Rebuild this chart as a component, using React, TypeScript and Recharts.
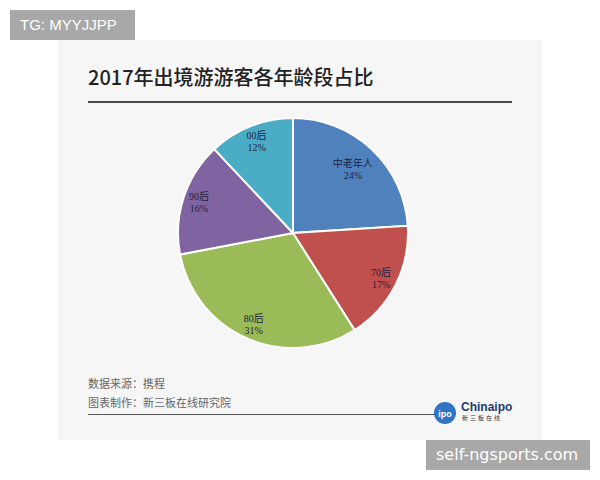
import React from "react";
import { PieChart, Pie, Cell } from "recharts";

const categories = ["中老年人", "70后", "80后", "90后", "00后"];
const shares = [24, 17, 31, 16, 12];
const colors = ["#4F81BD", "#C0504D", "#9BBB59", "#8064A2", "#4BACC6"];

const data = categories.map((name, i) => ({ name, value: shares[i] }));

const RADIAN = Math.PI / 180;

const renderLabel = (props: any) => {
  const { cx, cy, midAngle, outerRadius, index, name, value } = props;
  const r = outerRadius * (index === 0 ? 0.76 : 0.86);
  const x = cx + r * Math.cos(-midAngle * RADIAN);
  const y = cy + r * Math.sin(-midAngle * RADIAN);
  return (
    <text
      x={x}
      y={y}
      textAnchor="middle"
      fill="#1c2340"
      fontFamily="'Liberation Serif', 'Noto Sans CJK SC', serif"
      fontSize={10}
    >
      <tspan x={x} dy={-2}>{name}</tspan>
      <tspan x={x} dy={12}>{value + "%"}</tspan>
    </text>
  );
};

export default function App() {
  return (
    <div
      style={{
        position: "absolute",
        left: 0,
        top: 0,
        width: 600,
        height: 480,
        background: "#ffffff",
        overflow: "hidden",
        fontFamily: "'Noto Sans CJK SC', 'Noto Sans', sans-serif",
      }}
    >
      <div
        style={{
          position: "absolute",
          left: 58,
          top: 40,
          width: 484,
          height: 400,
          background: "#f6f6f6",
        }}
      />
      <div
        style={{
          position: "absolute",
          left: 88,
          top: 62,
          fontSize: 20,
          fontWeight: 500,
          color: "#222",
          whiteSpace: "nowrap",
          lineHeight: "30px",
        }}
      >
        2017年出境游游客各年龄段占比
      </div>
      <div
        style={{
          position: "absolute",
          left: 88,
          top: 101,
          width: 424,
          height: 2,
          background: "#4a4a4a",
        }}
      />
      <div style={{ position: "absolute", left: 0, top: 0 }}>
        <PieChart width={600} height={480} margin={{ top: 0, right: 0, bottom: 0, left: 0 }}>
          <Pie
            data={data}
            dataKey="value"
            nameKey="name"
            cx={293}
            cy={233}
            outerRadius={115}
            startAngle={90}
            endAngle={-270}
            stroke="#ffffff"
            strokeWidth={2}
            label={renderLabel}
            labelLine={false}
            isAnimationActive={false}
          >
            {data.map((d, i) => (
              <Cell key={d.name} fill={colors[i]} />
            ))}
          </Pie>
        </PieChart>
      </div>
      <div
        style={{
          position: "absolute",
          left: 88,
          top: 375,
          fontSize: 11,
          color: "#666",
          lineHeight: "16px",
          whiteSpace: "nowrap",
        }}
      >
        数据来源：携程
      </div>
      <div
        style={{
          position: "absolute",
          left: 88,
          top: 394,
          fontSize: 11,
          color: "#666",
          lineHeight: "16px",
          whiteSpace: "nowrap",
        }}
      >
        图表制作：新三板在线研究院
      </div>
      <div
        style={{
          position: "absolute",
          left: 88,
          top: 414,
          width: 348,
          height: 1,
          background: "#555",
        }}
      />
      <div
        style={{
          position: "absolute",
          left: 434,
          top: 402,
          width: 22,
          height: 22,
          borderRadius: 11,
          background: "#2f74c4",
          color: "#fff",
          fontSize: 9,
          fontWeight: 700,
          textAlign: "center",
          lineHeight: "24px",
          fontFamily: "Arial, 'Liberation Sans', sans-serif",
        }}
      >
        ipo
      </div>
      <div
        style={{
          position: "absolute",
          left: 461,
          top: 400,
          fontSize: 12,
          fontWeight: 700,
          color: "#1d3c6e",
          lineHeight: "14px",
          fontFamily: "'Liberation Sans', sans-serif",
          whiteSpace: "nowrap",
        }}
      >
        Chinaipo
      </div>
      <div
        style={{
          position: "absolute",
          left: 462,
          top: 414,
          fontSize: 6,
          color: "#333",
          lineHeight: "8px",
          letterSpacing: 2,
          whiteSpace: "nowrap",
        }}
      >
        新三板在线
      </div>
      <div
        style={{
          position: "absolute",
          left: 10,
          top: 10,
          width: 125,
          height: 30,
          background: "#a8a8a8",
          color: "#fff",
          fontSize: 15,
          lineHeight: "30px",
          paddingLeft: 10,
          boxSizing: "border-box",
          fontFamily: "'Liberation Sans', Arial, sans-serif",
          whiteSpace: "nowrap",
        }}
      >
        TG: MYYJJPP
      </div>
      <div
        style={{
          position: "absolute",
          left: 426,
          top: 440,
          width: 164,
          height: 30,
          background: "#a8a8a8",
          color: "#fff",
          fontSize: 16,
          lineHeight: "30px",
          paddingLeft: 10,
          boxSizing: "border-box",
          fontFamily: "'DejaVu Sans', sans-serif",
          whiteSpace: "nowrap",
        }}
      >
        self-ngsports.com
      </div>
    </div>
  );
}
